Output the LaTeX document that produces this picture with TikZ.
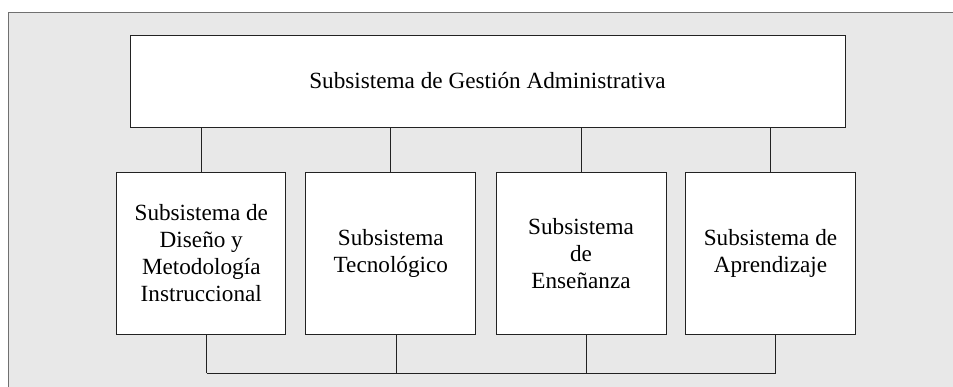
\documentclass[tikz,border=0pt]{standalone}
\usepackage{fontspec}
\setmainfont{Liberation Serif}
\usepackage{tikz}

\definecolor{panelgray}{RGB}{232,232,232}
\definecolor{panelline}{RGB}{112,112,112}
\definecolor{boxline}{RGB}{34,34,34}

\tikzset{
	subbox/.style={draw=boxline, fill=white, line width=0.9pt, align=center,
		inner sep=0pt, font=\fontsize{23.2}{27}\selectfont},
	link/.style={draw=boxline, line width=0.9pt}
}

\begin{document}
\begin{tikzpicture}[x=1pt, y=-1pt]
	% One unit is one pixel of the reference, y grows downwards.
	\useasboundingbox (0, 0) rectangle (953, 387);
	\fill[panelgray] (8, 12) rectangle (953, 387);
	\draw[panelline, line width=0.8pt] (8, 387) -- (8, 12) -- (953, 12);
	\node(admin) [subbox, minimum width=715, minimum height=92] at (487.5, 81) {Subsistema de Gestión Administrativa};
	\node(disenio) [subbox, minimum width=169, minimum height=162] at (201.3, 253.3) {Subsistema de\\Diseño y\\Metodología\\Instruccional};
	\node(tecno) [subbox, minimum width=170, minimum height=162] at (390.8, 253.3) {Subsistema\\Tecnológico};
	\node(ensen) [subbox, minimum width=170, minimum height=162] at (581, 253.3) {Subsistema\\de\\Enseñanza};
	\node(aprend) [subbox, minimum width=170, minimum height=162] at (770.5, 253.3) {Subsistema de\\Aprendizaje};
	\draw[link] (admin.south -| disenio.north) -- (disenio.north);
	\draw[link] (admin.south -| tecno.north) -- (tecno.north);
	\draw[link] (admin.south -| ensen.north) -- (ensen.north);
	\draw[link] (admin.south -| aprend.north) -- (aprend.north);
	\coordinate (b1) at (206.7, 373.3);
	\coordinate (b2) at (396.7, 373.3);
	\coordinate (b3) at (586, 373.3);
	\coordinate (b4) at (775.7, 373.3);
	\draw[link] (disenio.south -| b1) -- (b1);
	\draw[link] (tecno.south -| b2) -- (b2);
	\draw[link] (ensen.south -| b3) -- (b3);
	\draw[link] (aprend.south -| b4) -- (b4);
	\draw[link] (b1) -- (b4);
\end{tikzpicture}
\end{document}
